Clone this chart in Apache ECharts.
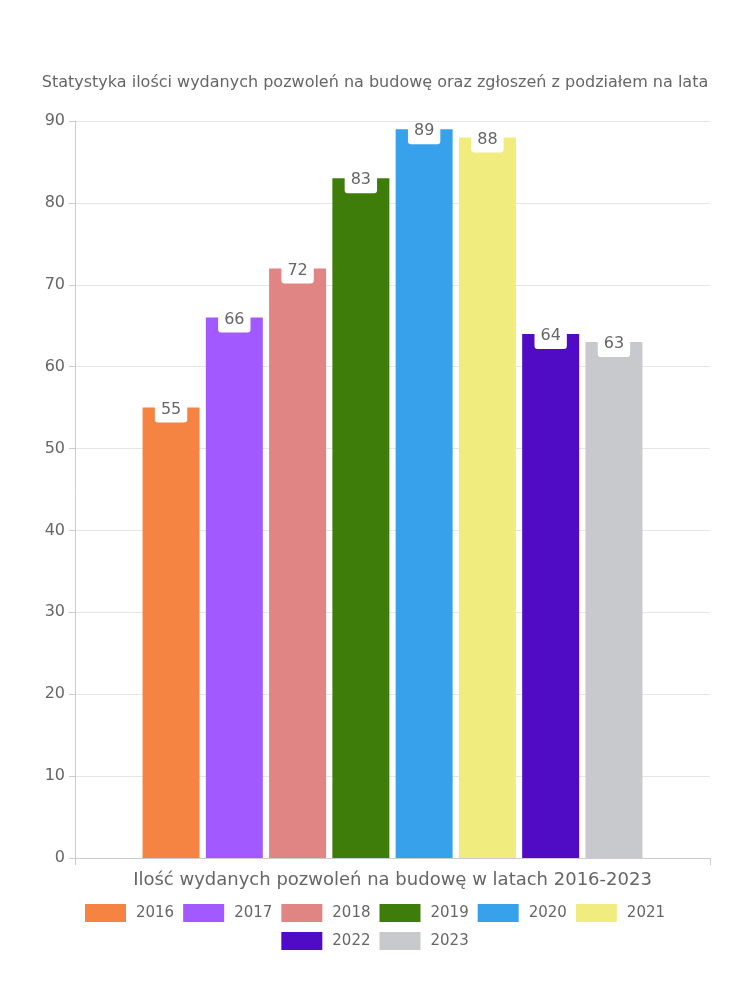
<!DOCTYPE html>
<html><head><meta charset="utf-8">
<script src="https://cdn.jsdelivr.net/npm/echarts@6/dist/echarts.min.js"></script>
<style>html,body{margin:0;padding:0;background:#fff}#c{width:750px;height:1000px}</style>
</head><body><div id="c"></div>
<script>
const categories = ['Ilość wydanych pozwoleń na budowę w latach 2016-2023'];
const years = ['2016','2017','2018','2019','2020','2021','2022','2023'];
const values = [55, 66, 72, 83, 89, 88, 64, 63];
const colors = ['#F58442','#A259FF','#E18484','#3F7D0B','#37A2EB','#F0EC7D','#500BC4','#C8C9CD'];
const yTicks = {min: 0, max: 90, interval: 10};
const FONT = 'DejaVu Sans';
const legendBase = {left: 'center', itemWidth: 41, itemHeight: 18, itemGap: 9,
  textStyle: {fontFamily: FONT, fontSize: 15, color: '#666', padding: [0, 0, 0, 5]}, icon: 'rect'};
const chart = echarts.init(document.getElementById('c'));
chart.setOption({
  textStyle: {fontFamily: FONT},
  title: {text: 'Statystyka ilości wydanych pozwoleń na budowę oraz zgłoszeń z podziałem na lata',
    left: 'center', top: 70, textStyle: {fontFamily: FONT, fontSize: 16, fontWeight: 'normal', color: '#666'}},
  grid: {left: 75, right: 40, top: 121, bottom: 142},
  legend: [
    Object.assign({}, legendBase, {top: 899, data: years.slice(0, 6)}),
    Object.assign({}, legendBase, {top: 927, data: years.slice(6)})
  ],
  xAxis: {type: 'category', data: categories,
    axisLine: {lineStyle: {color: '#ccc'}},
    axisTick: {show: true, length: 7, lineStyle: {color: '#ccc'}},
    axisLabel: {fontFamily: FONT, fontSize: 18, color: '#666', margin: 13}},
  yAxis: {type: 'value', min: yTicks.min, max: yTicks.max, interval: yTicks.interval,
    axisLine: {show: true, lineStyle: {color: '#ccc'}},
    axisTick: {show: true, length: 6, lineStyle: {color: '#ccc'}},
    splitLine: {lineStyle: {color: '#e6e6e6'}},
    axisLabel: {fontFamily: FONT, fontSize: 16, color: '#666', margin: 10}},
  series: years.map((y, i) => ({
    name: y, type: 'bar', data: [values[i]], barWidth: 57, barGap: '11%',
    itemStyle: {color: colors[i]},
    label: {show: true, position: 'insideTop', offset: [0, -12], fontFamily: FONT, fontSize: 16, color: '#666',
      backgroundColor: '#fff', padding: [1, 6, 5, 6], borderRadius: [0, 0, 3, 3]}
  }))
});
</script></body></html>
